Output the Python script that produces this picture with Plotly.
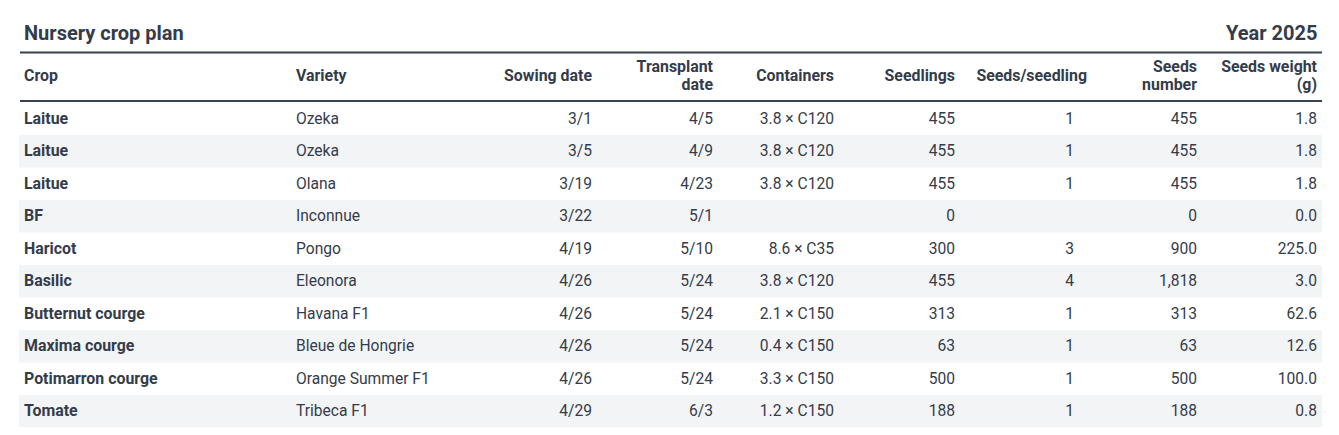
import plotly.graph_objects as go

# ---------------- data ----------------
crops = ["Laitue", "Laitue", "Laitue", "BF", "Haricot", "Basilic",
         "Butternut courge", "Maxima courge", "Potimarron courge", "Tomate"]
varieties = ["Ozeka", "Ozeka", "Olana", "Inconnue", "Pongo", "Eleonora",
             "Havana F1", "Bleue de Hongrie", "Orange Summer F1", "Tribeca F1"]
sowing_dates = ["3/1", "3/5", "3/19", "3/22", "4/19", "4/26", "4/26", "4/26", "4/26", "4/29"]
transplant_dates = ["4/5", "4/9", "4/23", "5/1", "5/10", "5/24", "5/24", "5/24", "5/24", "6/3"]
containers = ["3.8 × C120", "3.8 × C120", "3.8 × C120", "", "8.6 × C35", "3.8 × C120",
              "2.1 × C150", "0.4 × C150", "3.3 × C150", "1.2 × C150"]
seedlings = [455, 455, 455, 0, 300, 455, 313, 63, 500, 188]
seeds_per_seedling = [1, 1, 1, None, 3, 4, 1, 1, 1, 1]
seeds_number = [455, 455, 455, 0, 900, 1818, 313, 63, 500, 188]
seeds_weight = [1.8, 1.8, 1.8, 0.0, 225.0, 3.0, 62.6, 12.6, 100.0, 0.8]

headers = ["Crop", "Variety", "Sowing date", "Transplant<br>date", "Containers",
           "Seedlings", "Seeds/seedling", "Seeds<br>number", "Seeds weight<br>(g)"]
title_text = "Nursery crop plan"
year_text = "Year 2025"

# ---------------- layout / style ----------------
W, H = 1339, 435
PAD = 8  # default body margin of the html page
FONT = "Roboto, 'Noto Sans', sans-serif"
TXT = "#343c4a"
LINE = "#374151"
STRIPE = "#f3f4f6"
TABLE_L, TABLE_R = 19, 1322
ROW_TOP, ROW_H = 102.5, 32.5
TEXT_DY = 1
HEAD_Y = 77
HEAD_LINE_GAP = 18.6
TITLE_Y = 33
BODY_SIZE, BOLD_SIZE, TITLE_SIZE = 15.6, 15.9, 20
# (anchor x, text position) for each column
col_anchor = [(24, "middle right"), (296, "middle right"), (592, "middle left"),
              (713, "middle left"), (834, "middle left"), (955, "middle left"),
              (1074, "middle left"), (1197, "middle left"), (1317, "middle left")]
head_anchor = list(col_anchor)
head_anchor[6] = (1087, "middle left")

fmt = lambda v: "" if v is None else f"{v:,}"
columns = [
    crops, varieties, sowing_dates, transplant_dates, containers,
    [fmt(v) for v in seedlings], [fmt(v) for v in seeds_per_seedling],
    [fmt(v) for v in seeds_number], [f"{v:,.1f}" for v in seeds_weight],
]

n = len(crops)
row_y = [ROW_TOP + ROW_H * (i + 0.5) + TEXT_DY for i in range(n)]

fig = go.Figure()

# zebra stripes
shapes = []
for i in range(n):
    if i % 2 == 1:
        shapes.append(dict(type="rect", xref="x", yref="y", layer="below",
                           x0=TABLE_L, x1=TABLE_R,
                           y0=ROW_TOP + ROW_H * i, y1=ROW_TOP + ROW_H * (i + 1),
                           fillcolor=STRIPE, line=dict(width=0)))
# header rules
for yy in (52.5, 101):
    shapes.append(dict(type="line", xref="x", yref="y", x0=TABLE_L + 1, x1=TABLE_R,
                       y0=yy, y1=yy, line=dict(color=LINE, width=2.2)))

# body cells
for c, vals in enumerate(columns):
    x0, pos = col_anchor[c]
    bold = c == 0
    fig.add_trace(go.Scatter(
        x=[x0] * n, y=row_y, text=vals, mode="text", textposition=pos,
        textfont=dict(family=FONT, size=BOLD_SIZE if bold else BODY_SIZE, color=TXT,
                      weight="bold" if bold else "normal"),
        hoverinfo="skip", showlegend=False, cliponaxis=False))

# header cells (each line placed separately for tight line spacing)
for c, h in enumerate(headers):
    x0, pos = head_anchor[c]
    lines = h.split("<br>")
    k = len(lines)
    ys = [HEAD_Y + HEAD_LINE_GAP * (j - (k - 1) / 2) for j in range(k)]
    fig.add_trace(go.Scatter(
        x=[x0] * k, y=ys, text=lines, mode="text", textposition=pos,
        textfont=dict(family=FONT, size=BOLD_SIZE, color=TXT, weight="bold"),
        hoverinfo="skip", showlegend=False, cliponaxis=False))

fig.update_layout(
    width=W - 2 * PAD, height=H - 2 * PAD,
    margin=dict(l=0, r=0, t=0, b=0),
    paper_bgcolor="white", plot_bgcolor="white",
    xaxis=dict(range=[PAD, W - PAD], visible=False, fixedrange=True),
    yaxis=dict(range=[H - PAD, PAD], visible=False, fixedrange=True),
    shapes=shapes,
    annotations=[
        dict(x=23, y=TITLE_Y, xref="x", yref="y", text=title_text, showarrow=False,
             xanchor="left", yanchor="middle", borderpad=0,
             font=dict(family=FONT, size=TITLE_SIZE, color=TXT, weight="bold")),
        dict(x=1318, y=TITLE_Y, xref="x", yref="y", text=year_text, showarrow=False,
             xanchor="right", yanchor="middle", borderpad=0,
             font=dict(family=FONT, size=TITLE_SIZE, color=TXT, weight="bold")),
    ],
)

fig.write_html("out.html")
